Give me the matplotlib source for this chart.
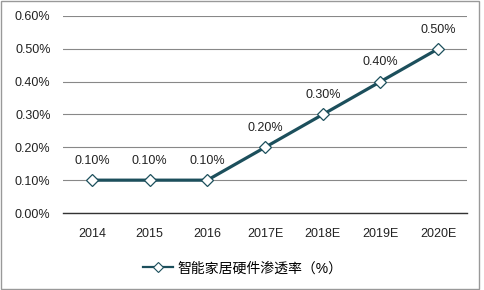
import matplotlib.pyplot as plt
from matplotlib.lines import Line2D
from matplotlib.patches import Rectangle

plt.rcParams['font.family'] = ['Liberation Sans', 'Noto Sans CJK SC', 'DejaVu Sans']

years = ['2014', '2015', '2016', '2017E', '2018E', '2019E', '2020E']
rate = [0.10, 0.10, 0.10, 0.20, 0.30, 0.40, 0.50]
yticks = [0.0, 0.1, 0.2, 0.3, 0.4, 0.5, 0.6]
series_name = '智能家居硬件渗透率（%）'

line_color = '#1c4f5c'

fig = plt.figure(figsize=(4.85, 2.9), dpi=100)
ax = fig.add_axes([0.130, 0.2655, 0.833, 0.6795])

x = list(range(len(years)))
ax.plot(x, rate, color=line_color, linewidth=2.3, marker='D', markersize=6.5,
        markerfacecolor='white', markeredgecolor=line_color, markeredgewidth=0.9,
        zorder=3)

for xi, v in zip(x, rate):
    ax.text(xi, v + 0.04, f'{v:.2f}%', ha='center', va='bottom', fontsize=9, color='#222222')

ax.set_xlim(-0.5, len(years) - 0.5)
ax.set_ylim(0, 0.6)
ax.set_yticks(yticks)
ax.set_yticklabels([f'{t:.2f}%' for t in yticks], fontsize=9, color='#222222')
ax.set_xticks(x)
ax.set_xticklabels(years, fontsize=9, color='#222222')
ax.tick_params(axis='y', length=0, pad=9)
ax.tick_params(axis='x', length=0, pad=11)
ax.grid(axis='y', color='#888888', linewidth=0.8)
ax.set_axisbelow(True)
for s in ['top', 'right', 'left']:
    ax.spines[s].set_visible(False)
ax.spines['bottom'].set_color('#333333')
ax.spines['bottom'].set_linewidth(1.0)

handle = Line2D([], [], color=line_color, linewidth=1.6, marker='D', markersize=5,
                markerfacecolor='white', markeredgecolor=line_color, markeredgewidth=0.8)
fig.legend([handle], [series_name], loc='center', bbox_to_anchor=(0.5, 0.075),
           frameon=False, fontsize=10, handlelength=2.2, handletextpad=0.3)

fig.patches.append(Rectangle((0.002, 0.003), 0.986, 0.992, transform=fig.transFigure,
                             fill=False, edgecolor='#999999', linewidth=1.0))

fig.savefig('out.png', dpi=100)
